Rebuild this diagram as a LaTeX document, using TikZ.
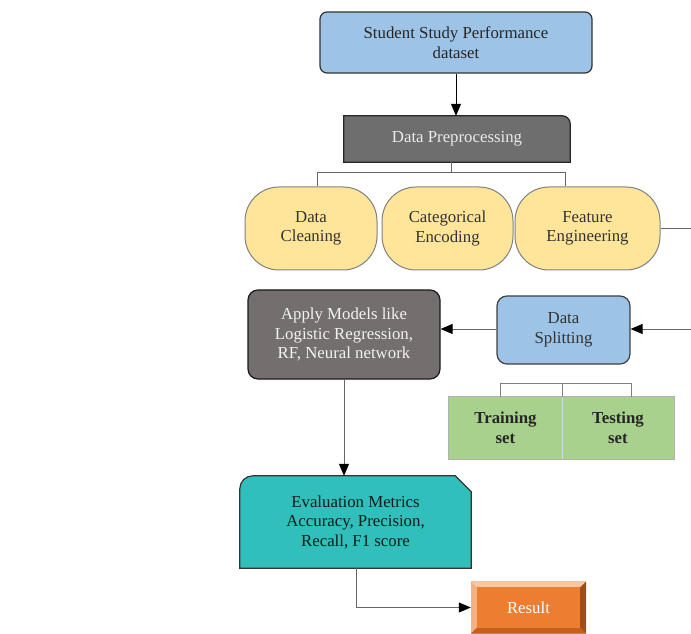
\documentclass[tikz,border=0pt]{standalone}
\usepackage{fontspec}
\setmainfont{Liberation Serif}
\usetikzlibrary{arrows.meta,backgrounds}
\definecolor{dsblue}{RGB}{157,195,230}
\definecolor{ppgray}{RGB}{110,110,110}
\definecolor{ylw}{RGB}{254,229,154}
\definecolor{apgray}{RGB}{117,110,110}
\definecolor{grn}{RGB}{169,209,142}
\definecolor{teal2}{RGB}{48,191,186}
\definecolor{orng}{RGB}{237,125,49}
\definecolor{orlight}{RGB}{245,177,131}
\definecolor{orlighter}{RGB}{248,200,165}
\definecolor{ordark}{RGB}{160,78,22}
\definecolor{ordark2}{RGB}{196,96,31}
\begin{document}
\begin{tikzpicture}[x=1pt,y=1pt,
  base/.style={align=center, font=\fontsize{16.8}{19.5}\selectfont, inner sep=0pt},
  conn/.style={draw=black!60, line width=1pt},
  arr/.style={conn, -{Triangle[length=12pt,width=10pt,color=black]}},
  ybox/.style={base, draw=black!50, line width=1pt, fill=ylw, rounded corners=34pt,
    minimum height=83pt, text=black!80},
  gbox/.style={base, font=\fontsize{16.8}{20}\selectfont\bfseries, fill=grn,
    minimum height=62pt, text=black!85},
]
\useasboundingbox (0,0) rectangle (691,633);

% dataset
\node[base, draw=black!80, line width=1.2pt, fill=dsblue, rounded corners=7pt,
  minimum width=272pt, minimum height=61pt, text=black!85] (ds) at (456,590.5)
  {Student Study Performance\\dataset};

% preprocessing
\node[base, minimum width=226pt, minimum height=46pt, text=white!92!black] (pp) at (457,494) {Data Preprocessing};
\begin{pgfonlayer}{background}
\draw[fill=ppgray, draw=black!85, line width=1.2pt]
  (pp.south west) -- (pp.north west) -- ([xshift=-8pt]pp.north east)
  arc[start angle=90,end angle=0,radius=8pt] -- (pp.south east) -- cycle;
\end{pgfonlayer}
\draw[arr, draw=black] (ds.south) -- (ds.south |- pp.north);

% yellow boxes
\node[ybox, minimum width=132pt] (dc) at (311,404.5) {Data\\Cleaning};
\node[ybox, minimum width=131pt] (ce) at (447.5,404.5) {Categorical\\Encoding};
\node[ybox, minimum width=145pt] (fe) at (587.5,404.5) {Feature\\Engineering};
\coordinate (b1m) at (451,460);
\draw[conn] (pp.south -| b1m) -- (b1m);
\draw[conn] (dc.north -| 317,0) -- (317,460) -- (565,460) -- (fe.north -| 565,0);
\coordinate (fer) at (691,404.5);
\draw[conn] (fe.east) -- (fer);

% apply models
\node[base, draw=black!90, line width=1.2pt, fill=apgray, rounded corners=10pt,
  minimum width=192pt, minimum height=89pt, text=white!95!black] (ap) at (344,298.5)
  {Apply Models like\\Logistic Regression,\\RF, Neural network};

% data splitting
\node[base, draw=black!75, line width=1.2pt, fill=dsblue, rounded corners=10pt,
  minimum width=133pt, minimum height=68pt, text=black!80] (sp) at (563.5,303)
  {Data\\Splitting};
\coordinate (spr) at (691,304);
\draw[arr] (spr) -- (sp.east |- spr);
\draw[arr] (sp.west |- spr) -- (ap.east |- spr);

% training / testing
\node[gbox, minimum width=113pt] (tr) at (505.5,205) {Training\\set};
\node[gbox, minimum width=112pt] (te) at (618,205) {Testing\\set};
\draw[draw=black!30, line width=1.2pt] (tr.south west) rectangle (te.north east);
\draw[draw=white!85!black, line width=1.2pt] (tr.north east) -- (tr.south east);
\draw[conn, draw=black!50] (500,236) -- (500,250) -- (631,250) -- (631,236);
\draw[conn, draw=black!50] (562,250) -- (562,236);

% evaluation
\node[base, minimum width=231pt, minimum height=92pt, text=black!85!teal2] (ev) at (355.5,111)
  {Evaluation Metrics\\Accuracy, Precision,\\Recall, F1 score};
\begin{pgfonlayer}{background}
\draw[fill=teal2, draw=black!80, line width=1.2pt]
  (ev.south west) -- ([yshift=-13pt]ev.north west)
  arc[start angle=180,end angle=90,radius=13pt] -- ([xshift=-16pt]ev.north east)
  -- ([yshift=-16pt]ev.north east) -- (ev.south east) -- cycle;
\end{pgfonlayer}
\draw[arr] (ap.south) -- (ev.north -| ap.south);

% result
\node[base, minimum width=115pt, minimum height=52pt, text=white] (rs) at (528.5,25.5) {Result};
\begin{pgfonlayer}{background}
\fill[orlight] (rs.south west) rectangle (rs.north east);
\fill[orlighter] (rs.north west) -- (rs.north east) -- ([shift={(-6,-6)}]rs.north east) -- ([shift={(6,-6)}]rs.north west) -- cycle;
\fill[ordark] (rs.south east) -- (rs.north east) -- ([shift={(-6,-6)}]rs.north east) -- ([shift={(-6,6)}]rs.south east) -- cycle;
\fill[ordark2] (rs.south west) -- (rs.south east) -- ([shift={(-6,6)}]rs.south east) -- ([shift={(6,6)}]rs.south west) -- cycle;
\fill[orng] ([shift={(6,6)}]rs.south west) rectangle ([shift={(-6,-6)}]rs.north east);
\end{pgfonlayer}
\draw[arr] (ev.south -| 356,0) -- (356,25.5) -- (rs.west);
\end{tikzpicture}
\end{document}
